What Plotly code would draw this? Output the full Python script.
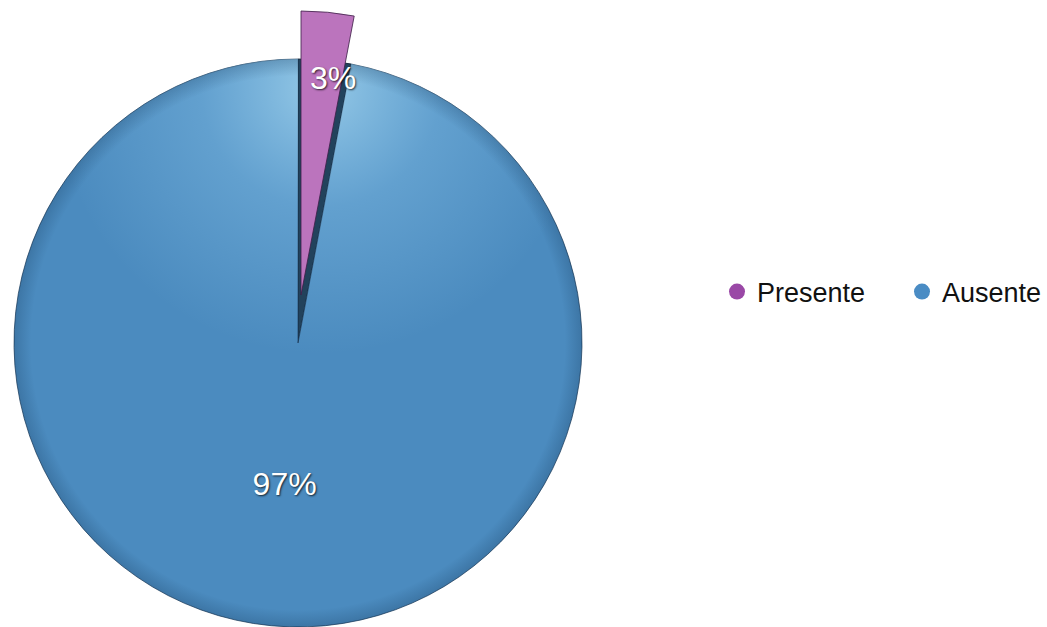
import base64
import math
import plotly.graph_objects as go

# Share of cases by status
categories = ["Presente", "Ausente"]
values = [3, 97]
slice_colors = ["#bb74bd", "#4b8bbf"]
legend_colors = ["#9a48a6", "#4a8cc4"]
slot_color = "#22425c"  # exposed side where the slice was lifted out

W, H = 1047, 627
FONT = "Liberation Sans, Arial, sans-serif"
label_font = dict(family=FONT, size=32, color="white",
                  shadow="1px 1px 2px rgba(0,0,0,0.75)")

# pixel box of the main disc and lift of the exploded slice
disc_x0, disc_x1 = 14, 582
disc_y0, disc_y1 = 59, 627
lift_x, lift_y = 3, 48

def dom_x(a, b):
    return [a / W, b / W]

def dom_y(top, bottom):
    return [max(0.0, 1 - bottom / H), 1 - top / H]

total = sum(values)
pct = [f"{round(100 * v / total)}%" for v in values]

fig = go.Figure()

# main disc: the large slice plus the dark slot left by the lifted slice
fig.add_trace(go.Pie(
    labels=categories, values=values, sort=False, direction="clockwise", rotation=0,
    marker=dict(colors=[slot_color, slice_colors[1]],
                line=dict(color=["rgba(20,40,60,0.9)", "rgba(25,55,85,0.7)"], width=1)),
    texttemplate=["", "%{percent:.0%}"], textposition="inside",
    insidetextorientation="horizontal", textfont=label_font,
    domain=dict(x=dom_x(disc_x0, disc_x1), y=dom_y(disc_y0, disc_y1)),
    showlegend=False, hoverinfo="label+percent",
))

# exploded slice, lifted above the disc
fig.add_trace(go.Pie(
    labels=categories, values=values, sort=False, direction="clockwise", rotation=0,
    marker=dict(colors=[slice_colors[0], "rgba(0,0,0,0)"],
                line=dict(color=["rgba(60,30,70,0.8)", "rgba(0,0,0,0)"], width=1)),
    textinfo="none",
    domain=dict(x=dom_x(disc_x0 + lift_x, disc_x1 + lift_x),
                y=dom_y(disc_y0 - lift_y, disc_y1 - lift_y)),
    showlegend=False, hoverinfo="label+percent",
))

# glossy highlight over the large slice only
theta = 2 * math.pi * values[0] / total
sx, sy = 100 + 100 * math.sin(theta), 100 - 100 * math.cos(theta)
sector = f"M100,100 L{sx:.3f},{sy:.3f} A100,100 0 1,1 100,0 Z"
gloss_svg = (
    "<svg xmlns='http://www.w3.org/2000/svg' width='200' height='200' viewBox='0 0 200 200'>"
    "<defs>"
    "<radialGradient id='hi' cx='0.54' cy='0.05' r='0.47'>"
    "<stop offset='0' stop-color='#c4f0ff' stop-opacity='0.62'/>"
    "<stop offset='0.45' stop-color='#a8e0ff' stop-opacity='0.25'/>"
    "<stop offset='1' stop-color='#a8e0ff' stop-opacity='0'/>"
    "</radialGradient>"
    "<radialGradient id='rim' cx='0.5' cy='0.5' r='0.5'>"
    "<stop offset='0.94' stop-color='#0a2a4a' stop-opacity='0'/>"
    "<stop offset='1' stop-color='#0a2a4a' stop-opacity='0.22'/>"
    "</radialGradient>"
    "</defs>"
    f"<path d='{sector}' fill='url(#hi)'/>"
    f"<path d='{sector}' fill='url(#rim)'/>"
    "</svg>"
)
gloss_uri = "data:image/svg+xml;base64," + base64.b64encode(gloss_svg.encode()).decode()
fig.add_layout_image(
    source=gloss_uri, xref="paper", yref="paper",
    x=disc_x0 / W, y=1 - disc_y0 / H,
    sizex=(disc_x1 - disc_x0) / W, sizey=(disc_y1 - disc_y0) / H,
    xanchor="left", yanchor="top", sizing="stretch", layer="above", opacity=1,
)

# label of the exploded slice
fig.add_annotation(
    text=pct[0], xref="paper", yref="paper", x=333 / W, y=1 - 78 / H,
    showarrow=False, font=label_font, xanchor="center", yanchor="middle",
)

# legend entries with round markers
for name, col in zip(categories, legend_colors):
    fig.add_trace(go.Scatter(x=[None], y=[None], mode="markers", name=name,
                             marker=dict(color=col, size=17, symbol="circle")))

fig.update_layout(
    width=W, height=H, margin=dict(l=0, r=0, t=0, b=0, autoexpand=False),
    paper_bgcolor="white", plot_bgcolor="white",
    xaxis=dict(visible=False), yaxis=dict(visible=False),
    legend=dict(orientation="h", x=717 / W, y=1 - 292 / H, xanchor="left", yanchor="middle",
                font=dict(family=FONT, size=27, color="#111"),
                entrywidth=140, itemwidth=30, bgcolor="rgba(0,0,0,0)"),
)

fig.write_html("out.html")
